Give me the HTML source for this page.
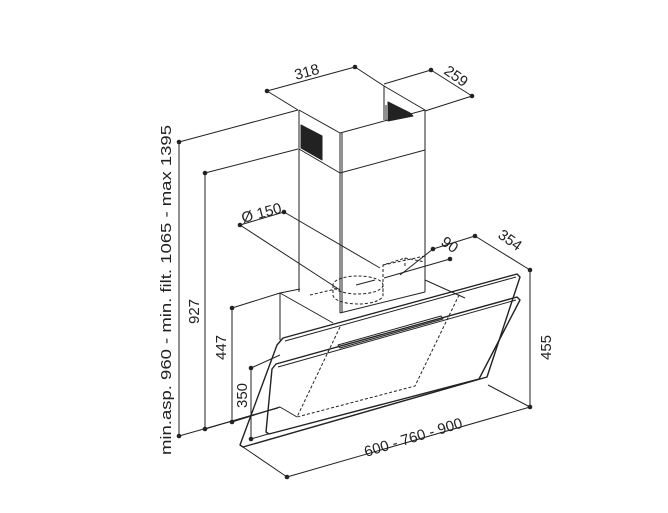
<!DOCTYPE html>
<html><head><meta charset="utf-8"><style>
html,body{margin:0;padding:0;background:#fff}
svg{display:block}
text{font-family:"Liberation Sans",sans-serif;fill:#222}
</style></head><body>
<svg width="668" height="513" viewBox="0 0 668 513" xmlns="http://www.w3.org/2000/svg">
<g stroke="#222" stroke-width="1" fill="none" stroke-linejoin="round">
<!-- chimney -->
<polyline points="299,110 340,133 425,110 384,86 384,120"/>
<line x1="299" y1="110" x2="299" y2="292"/>
<line x1="340" y1="133" x2="340" y2="313"/>
<line x1="342" y1="133" x2="342" y2="313"/>
<line x1="425" y1="110" x2="425" y2="292"/>
<polyline points="299,149 340,173 425,150"/>
<polygon points="301,125 322,136 322,160 301,148" fill="#222"/>
<polygon points="388,102 410,113 413,116 388,121" fill="#222"/>
<line x1="386" y1="105" x2="386" y2="121"/>
<!-- lower box -->
<polyline points="280,340 280,293 300,289"/>
<line x1="280" y1="293" x2="333" y2="323"/>
<line x1="340" y1="313" x2="425" y2="292"/>
<line x1="425" y1="280" x2="465" y2="298"/>
<!-- dashed hidden -->
<g stroke-dasharray="3,2">
<ellipse cx="358" cy="285" rx="25" ry="9"/>
<path d="M333,285 v10 a25,9 0 0 0 50,0 v-10"/>
<line x1="310" y1="295" x2="340" y2="288"/>
<polyline points="383,292 383,265 405,258 425,262"/>
<line x1="405" y1="258" x2="405" y2="266"/>
<line x1="383" y1="265" x2="425" y2="256"/>
<polyline points="340,327 297,417 415,386 460,293"/>
</g>
<line x1="280" y1="407" x2="297" y2="417"/>
<line x1="356" y1="285" x2="375" y2="280"/>
<!-- glass panels -->
<path d="M283,338 L517,274 L520,277 L487,377 L243,447 L240,445 L277,345 Z" stroke-width="1.4"/>
<path d="M285,341 L516,277" />
<path d="M276,364 L517,297 L520,300 L479,379 L269,434 L266,432 L272,369 Z" stroke-width="1.4"/>
<path d="M278,367 L516,300"/>
<path d="M338,345 L441,316 L443,319 L340,348 Z"/>
<!-- dimension lines -->
<polyline points="298,110 267,91 355,67 384,86"/>
<polyline points="384,84 431,70 472,96 425,111"/>
<polyline points="298,110 179,142 179,436 278,408"/>
<polyline points="298,149 205,173 205,429 280,407"/>
<polyline points="280,293 232,308 232,422 280,407"/>
<polyline points="280,355 251,368 251,439 268,434"/>
<polyline points="340,290 240,225 284,212 380,268"/>
<polyline points="400,275 433,249 475,236 530,270 530,407 488,385"/>
<line x1="450" y1="259" x2="384" y2="278"/>
<polyline points="243,447 287,477 530,407"/>
</g>
<g fill="#222">
<circle cx="267" cy="91" r="2.3"/><circle cx="355" cy="67" r="2.3"/>
<circle cx="431" cy="70" r="2.3"/><circle cx="472" cy="96" r="2.3"/>
<circle cx="179" cy="142" r="2.3"/><circle cx="179" cy="436" r="2.3"/>
<circle cx="205" cy="173" r="2.3"/><circle cx="205" cy="429" r="2.3"/>
<circle cx="232" cy="308" r="2.3"/><circle cx="232" cy="422" r="2.3"/>
<circle cx="251" cy="368" r="2.3"/><circle cx="251" cy="439" r="2.3"/>
<circle cx="240" cy="225" r="2.3"/><circle cx="284" cy="212" r="2.3"/>
<circle cx="433" cy="249" r="2.3"/><circle cx="450" cy="259" r="2.3"/>
<circle cx="475" cy="236" r="2.3"/><circle cx="530" cy="270" r="2.3"/>
<circle cx="530" cy="407" r="2.3"/><circle cx="287" cy="477" r="2.3"/>
</g>
<g font-size="15">
<text x="296" y="80" transform="rotate(-15 296 80)">318</text>
<text x="443" y="73" transform="rotate(35 443 73)">259</text>
<text x="243" y="223" transform="rotate(-15 243 223)">Ø 150</text>
<text x="440" y="244" transform="rotate(35 440 244)">90</text>
<text x="497" y="237" transform="rotate(35 497 237)">354</text>
<text x="366" y="457" transform="rotate(-17 366 457)">600 - 760 - 900</text>
<text x="0" y="0" transform="translate(171,455) rotate(-90)" textLength="330" lengthAdjust="spacingAndGlyphs">min.asp. 960 - min. filt. 1065 - max 1395</text>
<text x="0" y="0" transform="translate(199,324) rotate(-90)">927</text>
<text x="0" y="0" transform="translate(226,360) rotate(-90)">447</text>
<text x="0" y="0" transform="translate(247,408) rotate(-90)">350</text>
<text x="0" y="0" transform="translate(551,360) rotate(-90)">455</text>
</g>
</svg>
</body></html>
